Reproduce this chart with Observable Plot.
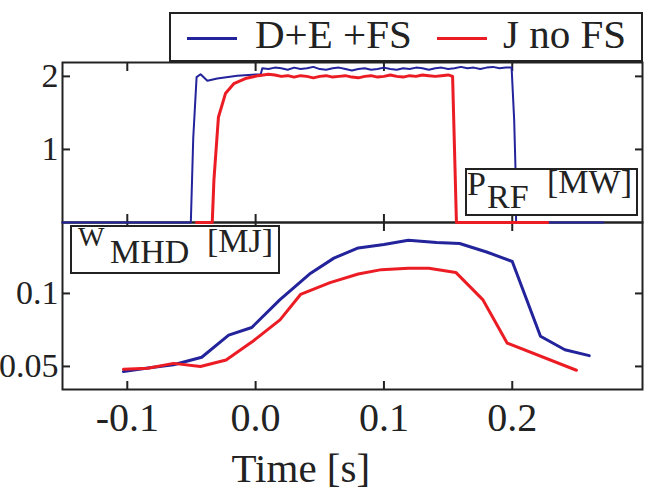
<!DOCTYPE html>
<html>
<head>
<meta charset="utf-8">
<script src="https://cdn.jsdelivr.net/npm/d3@7"></script>
<script src="https://cdn.jsdelivr.net/npm/@observablehq/plot@0.6"></script>
<style>
  html, body { margin: 0; padding: 0; background: #fff; }
  #wrap { position: relative; width: 646px; height: 492px; overflow: hidden; background: #fff;
          font-family: "Liberation Serif", "Times New Roman", serif; color: #222; }
  #wrap > svg { position: absolute; left: 0; background: transparent; }
  .lbl { position: absolute; white-space: nowrap; line-height: 1; }
  .box { position: absolute; box-sizing: border-box; border: 2px solid #222; background: #fff; }
  .swatch { position: absolute; height: 3px; }
</style>
</head>
<body>
<div id="wrap"></div>
<script>
// RF power traces (MW) versus time (s)
const blueT = [-0.1505, -0.0505, -0.0486, -0.046, -0.0429, -0.0376, -0.0299, -0.0143, 0.004, 0.0052,
  0.010, 0.015, 0.020, 0.025, 0.030, 0.035, 0.040, 0.045, 0.050, 0.055,
  0.060, 0.065, 0.070, 0.075, 0.080, 0.085, 0.090, 0.095, 0.100, 0.105,
  0.110, 0.115, 0.120, 0.125, 0.130, 0.135, 0.140, 0.145, 0.150, 0.155,
  0.160, 0.165, 0.170, 0.175, 0.180, 0.185, 0.190, 0.195,
  0.1995, 0.2015, 0.2025, 0.203, 0.271];
const blueP = [0, 0, 1.16, 1.99, 2.03, 1.94, 1.97, 2.01, 2.03, 2.11,
  2.10, 2.12, 2.11, 2.09, 2.12, 2.10, 2.11, 2.13, 2.10, 2.09,
  2.11, 2.12, 2.10, 2.08, 2.10, 2.11, 2.09, 2.10, 2.12, 2.10,
  2.09, 2.11, 2.10, 2.12, 2.11, 2.09, 2.11, 2.12, 2.10, 2.11,
  2.13, 2.11, 2.12, 2.10, 2.12, 2.13, 2.11, 2.12,
  2.12, 1.40, 0.75, 0, 0];

const redT = [-0.046, -0.0338, -0.0325, -0.029, -0.0234, -0.017, -0.008, 0.002, 0.010,
  0.015, 0.020, 0.025, 0.030, 0.035, 0.040, 0.045, 0.050, 0.055, 0.060,
  0.065, 0.070, 0.075, 0.080, 0.085, 0.090, 0.095, 0.100, 0.105, 0.110,
  0.115, 0.120, 0.125, 0.130, 0.135, 0.140, 0.145, 0.150,
  0.1535, 0.155, 0.1565, 0.2276];
const redP = [0, 0, 0.58, 1.44, 1.77, 1.90, 1.97, 2.01, 2.03,
  2.02, 2.00, 2.01, 1.99, 2.01, 2.00, 1.98, 2.00, 2.01, 1.99,
  2.00, 2.01, 1.99, 1.98, 2.00, 2.01, 1.99, 2.00, 2.02, 2.00,
  1.99, 2.01, 2.00, 2.02, 2.01, 2.00, 2.01, 2.02,
  2.00, 1.00, 0, 0];

// Stored energy W_MHD (MJ) versus time (s)
const blueWT = [-0.103, -0.084, -0.064, -0.042, -0.021, -0.003, 0.019, 0.042, 0.061, 0.080,
  0.100, 0.119, 0.141, 0.159, 0.180, 0.200, 0.222, 0.241, 0.260];
const blueW = [0.0465, 0.0490, 0.0512, 0.0563, 0.0714, 0.0767, 0.0958, 0.1133, 0.1242, 0.1312,
  0.1335, 0.1365, 0.1349, 0.1342, 0.1284, 0.1219, 0.0707, 0.0614, 0.0574];
const redWT = [-0.103, -0.084, -0.064, -0.043, -0.023, -0.003, 0.019, 0.035, 0.058, 0.080,
  0.098, 0.119, 0.135, 0.156, 0.177, 0.196, 0.250];
const redW = [0.0481, 0.0488, 0.0521, 0.0500, 0.0544, 0.0667, 0.0819, 0.0993, 0.1074, 0.1133,
  0.1163, 0.1172, 0.1172, 0.1144, 0.0958, 0.0660, 0.0474];

const seriesNames = ["D+E +FS", "J no FS"];
const xTicks = [-0.1, 0.0, 0.1, 0.2];
const pTicks = [1, 2];
const wTicks = [0.05, 0.1];

const BLUE = "#23239b";
const RED = "#ec1c24";
const INK = "#222";
const FONT = '"Liberation Serif", "Times New Roman", serif';

const zip = (ts, vs) => ts.map((t, i) => ({t, v: vs[i]}));
const xDomain = [-0.1505, 0.3015];

// short ticks pointing into the frame, on the given sides
function innerTicks(scaleAxis, ticks, anchors) {
  return anchors.map(anchor => scaleAxis({anchor, ticks, tickSize: -8, strokeWidth: 2, stroke: INK, text: null, label: null}));
}

const powerPlot = Plot.plot({
  width: 646, height: 232,
  marginTop: 62, marginBottom: 10, marginLeft: 62, marginRight: 4,
  x: {domain: xDomain},
  y: {domain: [0, 2.19]},
  style: {fontFamily: FONT, color: INK, background: "transparent", overflow: "visible"},
  marks: [
    Plot.frame({stroke: INK, strokeWidth: 2}),
    ...innerTicks(Plot.axisX, xTicks, ["bottom", "top"]),
    ...innerTicks(Plot.axisY, pTicks, ["left", "right"]),
    Plot.axisY({anchor: "left", ticks: pTicks, tickSize: 0, tickPadding: 4, fontSize: 34, label: null, tickFormat: d => String(d)}),
    Plot.line(zip(blueT, blueP), {x: "t", y: "v", stroke: BLUE, strokeWidth: 2}),
    Plot.line(zip(redT, redP), {x: "t", y: "v", stroke: RED, strokeWidth: 3})
  ]
});

const energyPlot = Plot.plot({
  width: 646, height: 280,
  marginTop: 10, marginBottom: 103, marginLeft: 62, marginRight: 4,
  x: {domain: xDomain},
  y: {domain: [0.0342, 0.1486]},
  style: {fontFamily: FONT, color: INK, background: "transparent", overflow: "visible"},
  marks: [
    Plot.frame({stroke: INK, strokeWidth: 2}),
    ...innerTicks(Plot.axisX, xTicks, ["bottom", "top"]),
    ...innerTicks(Plot.axisY, wTicks, ["left", "right"]),
    Plot.axisX({anchor: "bottom", ticks: xTicks, tickSize: 0, tickPadding: 13, fontSize: 40, label: null, tickFormat: d => d.toFixed(1)}),
    Plot.axisY({anchor: "left", ticks: wTicks, tickSize: 0, tickPadding: 4, fontSize: 34, label: null, tickFormat: d => String(d)}),
    Plot.line(zip(blueWT, blueW), {x: "t", y: "v", stroke: BLUE, strokeWidth: 3}),
    Plot.line(zip(redWT, redW), {x: "t", y: "v", stroke: RED, strokeWidth: 3})
  ]
});

const wrap = document.getElementById("wrap");
energyPlot.style.top = "212px";
powerPlot.style.top = "0px";
wrap.append(energyPlot, powerPlot);

// text placed by its baseline (line-height 1 → baseline at ~0.8375em)
function label(text, left, baseline, size, parent = wrap) {
  const s = document.createElement("span");
  s.className = "lbl";
  s.textContent = text;
  s.style.fontSize = size + "px";
  s.style.left = left + "px";
  s.style.top = (baseline - 0.8375 * size) + "px";
  parent.appendChild(s);
  return s;
}
function box(left, topY, w, h) {
  const b = document.createElement("div");
  b.className = "box";
  Object.assign(b.style, {left: left + "px", top: topY + "px", width: w + "px", height: h + "px"});
  wrap.appendChild(b);
  return b;
}
function swatch(color, left, y, w) {
  const s = document.createElement("div");
  s.className = "swatch";
  Object.assign(s.style, {background: color, left: left + "px", top: (y - 1.5) + "px", width: w + "px"});
  wrap.appendChild(s);
}

// legend
box(169, 12, 474, 50);
swatch(BLUE, 187, 38, 50);
label(seriesNames[0], 255, 48, 41);
swatch(RED, 437, 38, 50);
label(seriesNames[1], 503, 48, 41);

// panel labels (positions are relative to each box's inner corner)
const pBox = box(465, 168, 173, 48);
label("P", 0, 25, 34, pBox);
label("RF", 20, 38, 34, pBox);
label("[MW]", 80, 23, 34, pBox);

const wBox = box(70, 225, 210, 49);
label("W", 6, 19, 28, wBox);
label("MHD", 38, 36, 34, wBox);
label("[MJ]", 135, 25, 34, wBox);

// x-axis title
const xt = label("Time [s]", 0, 482, 41);
xt.style.left = (301 - xt.offsetWidth / 2) + "px";
</script>
</body>
</html>
